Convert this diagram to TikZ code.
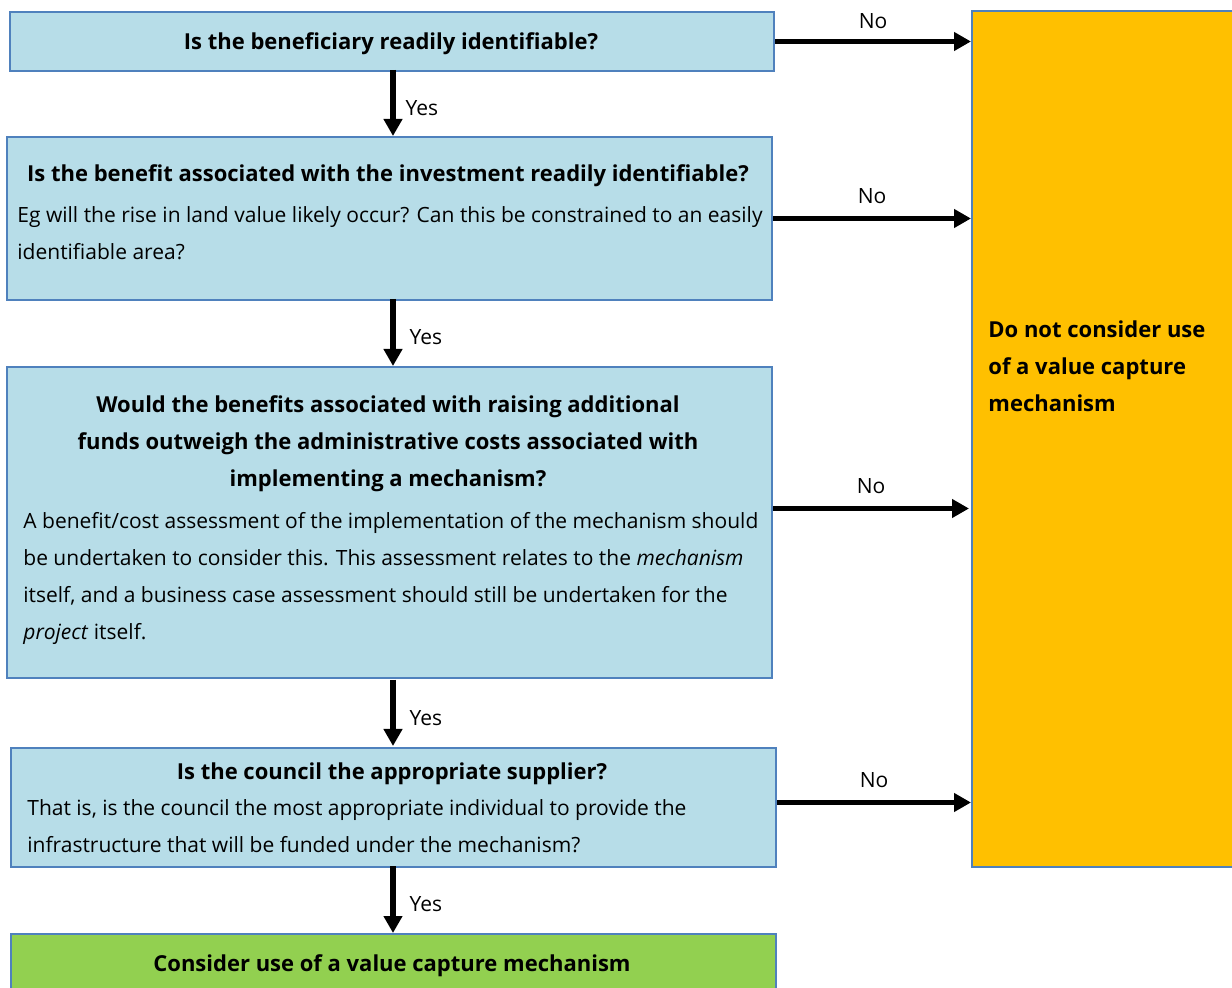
\documentclass[tikz,border=0pt]{standalone}
\usepackage{fontspec}
\setmainfont{Open Sans}
\usetikzlibrary{arrows.meta,calc}
\definecolor{boxblue}{RGB}{183,221,232}
\definecolor{edgeblue}{RGB}{79,129,189}
\definecolor{nogold}{RGB}{255,192,0}
\definecolor{yesgreen}{RGB}{146,208,80}
\tikzset{
  qbox/.style={draw=edgeblue, line width=1pt, fill=boxblue, anchor=north west, inner sep=0pt},
  flow/.style={line width=2.6pt, -{Triangle[length=8.5pt,width=9pt]}},
  txt/.style={font=\fontsize{10.5}{18.5}\selectfont, inner sep=0pt},
  head/.style={font=\fontsize{11}{18.5}\selectfont\bfseries, inner sep=0pt}
}
\begin{document}
\begin{tikzpicture}[x=0.5pt, y=-0.5pt]
        \useasboundingbox (0,0) rectangle (1232,988);
        \clip (0,0) rectangle (1232,988);

        % question boxes
        \node [qbox, minimum width=382pt, minimum height=29.5pt] (ident) at (9,11) {};
        \node [qbox, minimum width=382.5pt, minimum height=81.5pt] (benefit) at (6,136) {};
        \node [qbox, minimum width=382.5pt, minimum height=155.5pt] (costs) at (6,366) {};
        \node [qbox, minimum width=382.5pt, minimum height=59.5pt] (supplier) at (10,747) {};
        \node [qbox, fill=yesgreen, minimum width=382.5pt, minimum height=40pt] (consider) at (10,933) {};
        \node [qbox, fill=nogold, minimum width=140pt, minimum height=428pt] (dont) at (971,10) {};

        % texts
        \node [head] at (391,44) {Is the beneficiary readily identifiable?};
        \node [head] at (388,176) {Is the benefit associated with the investment readily identifiable?};
        \node [txt, align=left, anchor=west] at (17,233) {Eg will the rise in land value likely occur? Can this be constrained to an easily\\identifiable area?};
        \node [head, align=center] at (388,444) {Would the benefits associated with raising additional\\funds outweigh the administrative costs associated with\\implementing a mechanism?};
        \node [txt, align=left, anchor=west] at (23,578) {A benefit/cost assessment of the implementation of the mechanism should\\be undertaken to consider this. This assessment relates to the \textit{mechanism}\\itself, and a business case assessment should still be undertaken for the\\\textit{project} itself.};
        \node [head] at (392,774) {Is the council the appropriate supplier?};
        \node [txt, align=left, anchor=west] at (27,826) {That is, is the council the most appropriate individual to provide the\\infrastructure that will be funded under the mechanism?};
        \node [head] at (392,966) {Consider use of a value capture mechanism};
        \node [head, align=left, anchor=west] at (988,366) {Do not consider use\\of a value capture\\mechanism};

        % yes arrows
        \draw [flow] (393,70) -- (393,136) node [txt, midway, right=5pt, yshift=-2.5pt] {Yes};
        \draw [flow] (393,299) -- (393,366) node [txt, midway, right=7pt, yshift=-2.5pt] {Yes};
        \draw [flow] (393,680) -- (393,746) node [txt, midway, right=7pt, yshift=-2.5pt] {Yes};
        \draw [flow] (393,866) -- (393,933) node [txt, midway, right=7pt, yshift=-2.5pt] {Yes};

        % no arrows
        \draw [flow] (ident.east) -- (ident.east -| dont.west) node [txt, midway, above=5pt] {No};
        \draw [flow] (benefit.east) -- (benefit.east -| dont.west) node [txt, midway, above=6pt] {No};
        \draw [flow] ($(costs.east)+(0,-14)$) -- ($(costs.east -| dont.west)+(-2,-14)$) node [txt, midway, above=6pt] {No};
        \draw [flow] ($(supplier.east)+(0,-5)$) -- ($(supplier.east -| dont.west)+(0,-5)$) node [txt, midway, above=6pt] {No};
    \end{tikzpicture}
\end{document}
